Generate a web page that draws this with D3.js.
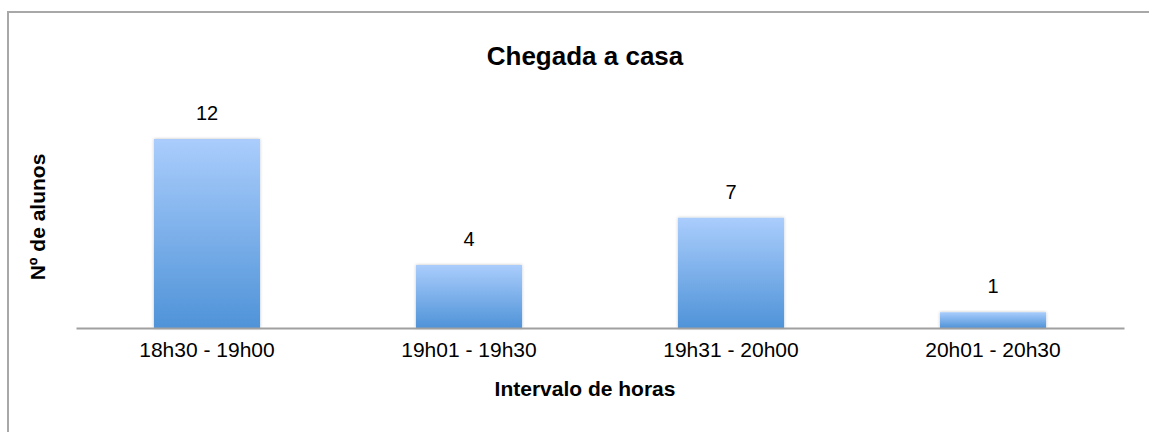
<!DOCTYPE html>
<html>
<head>
<meta charset="utf-8">
<script src="https://cdn.jsdelivr.net/npm/d3@7"></script>
<style>
  html, body { margin: 0; padding: 0; background: #fff; }
  svg { display: block; font-family: "Liberation Sans", Arial, Helvetica, sans-serif; }
</style>
</head>
<body>
<script>
const categories = ["18h30 - 19h00", "19h01 - 19h30", "19h31 - 20h00", "20h01 - 20h30"];
const values = [12, 4, 7, 1];
const title = "Chegada a casa";
const xTitle = "Intervalo de horas";
const yTitle = "Nº de alunos";

const W = 1149, H = 432;
const svg = d3.select("body").append("svg").attr("width", W).attr("height", H);

const defs = svg.append("defs");
const grad = defs.append("linearGradient").attr("id", "barGrad")
  .attr("x1", 0).attr("y1", 0).attr("x2", 0).attr("y2", 1);
grad.append("stop").attr("offset", "0%").attr("stop-color", "#aacdfc");
grad.append("stop").attr("offset", "100%").attr("stop-color", "#4f93d8");
const f = defs.append("filter").attr("id", "shadow").attr("x", "-10%").attr("y", "-10%").attr("width", "120%").attr("height", "120%");
f.append("feDropShadow").attr("dx", 0).attr("dy", 0).attr("stdDeviation", 1.5).attr("flood-color", "#000").attr("flood-opacity", 0.25);

// outer frame
svg.append("rect").attr("x", 8).attr("y", 12).attr("width", W + 10).attr("height", H + 10)
  .attr("fill", "none").attr("stroke", "#a8a8a8").attr("stroke-width", 2);

const x = d3.scaleBand().domain(categories).range([76, 1124]).paddingInner(0.595).paddingOuter(0.2975);
const y = d3.scaleLinear().domain([0, 12]).range([328, 139]);

svg.append("text").attr("x", 585).attr("y", 65).attr("text-anchor", "middle")
  .attr("font-size", 26).attr("font-weight", "bold").attr("fill", "#000").text(title);

svg.selectAll("rect.bar").data(values).join("rect").attr("class", "bar")
  .attr("x", (d, i) => x(categories[i]))
  .attr("y", d => y(d))
  .attr("width", x.bandwidth())
  .attr("height", d => y(0) - y(d))
  .attr("fill", "url(#barGrad)")
  .attr("filter", "url(#shadow)");

svg.selectAll("text.val").data(values).join("text").attr("class", "val")
  .attr("x", (d, i) => x(categories[i]) + x.bandwidth() / 2)
  .attr("y", d => y(d) - 19)
  .attr("text-anchor", "middle").attr("font-size", 20).attr("fill", "#000")
  .text(d => d);

const xAxis = svg.append("g").attr("transform", "translate(0,328)")
  .call(d3.axisBottom(x).tickSize(0).tickPadding(14));
xAxis.select(".domain").attr("stroke", "#a0a0a0").attr("stroke-width", 2);
xAxis.selectAll(".tick text").attr("font-size", 21).attr("fill", "#000")
  .attr("font-family", "'Liberation Sans', Arial, sans-serif");

svg.append("text").attr("x", 585).attr("y", 396).attr("text-anchor", "middle")
  .attr("font-size", 21).attr("font-weight", "bold").attr("fill", "#000").text(xTitle);

svg.append("text").attr("transform", "translate(45,217) rotate(-90)").attr("text-anchor", "middle")
  .attr("font-size", 21).attr("font-weight", "bold").attr("fill", "#000").text(yTitle);
</script>
</body>
</html>
